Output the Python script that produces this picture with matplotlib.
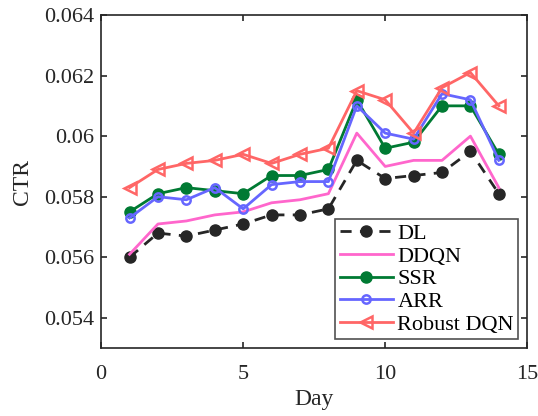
import matplotlib
matplotlib.use('Agg')
import matplotlib.pyplot as plt

plt.rcParams['font.family'] = ['Liberation Serif', 'DejaVu Serif']
plt.rcParams['mathtext.fontset'] = 'stix'

days = list(range(1, 15))
dl = [0.0560, 0.0568, 0.0567, 0.0569, 0.0571, 0.0574, 0.0574, 0.0576,
      0.0592, 0.0586, 0.0587, 0.0588, 0.0595, 0.0581]
ddqn = [0.0561, 0.0571, 0.0572, 0.0574, 0.0575, 0.0578, 0.0579, 0.0581,
        0.0601, 0.0590, 0.0592, 0.0592, 0.0600, 0.0583]
ssr = [0.0575, 0.0581, 0.0583, 0.0582, 0.0581, 0.0587, 0.0587, 0.0589,
       0.0612, 0.0596, 0.0598, 0.0610, 0.0610, 0.0594]
arr = [0.0573, 0.0580, 0.0579, 0.0583, 0.0576, 0.0584, 0.0585, 0.0585,
       0.0610, 0.0601, 0.0599, 0.0614, 0.0612, 0.0592]
robust = [0.0583, 0.0589, 0.0591, 0.0592, 0.0594, 0.0591, 0.0594, 0.0596,
          0.0615, 0.0612, 0.0601, 0.0616, 0.0621, 0.0610]

fig = plt.figure(figsize=(5.38, 4.16), dpi=100)
ax = fig.add_axes([0.188, 0.163, 0.792, 0.801])

ax.plot(days, dl, color='#262626', ls=(0, (4, 3)), lw=2, marker='o', ms=8, label='DL')
ax.plot(days, ddqn, color='#ff66cc', lw=2, label='DDQN')
ax.plot(days, ssr, color='#007a33', lw=2, marker='o', ms=8, label='SSR')
ax.plot(days, arr, color='#6666ff', lw=2, marker='o', ms=6, mfc='none', mew=1.8, label='ARR')
ax.plot(days, robust, color='#ff6666', lw=2, marker='<', ms=8, mfc='none', mew=1.8, label='Robust DQN')

ax.set_xlim(0, 15)
ax.set_ylim(0.053, 0.064)
ax.set_xticks([0, 5, 10, 15])
ax.set_yticks([0.054, 0.056, 0.058, 0.06, 0.062, 0.064])
ax.set_yticklabels(['0.054', '0.056', '0.058', '0.06', '0.062', '0.064'])
ax.tick_params(direction='in', top=True, right=True, labelsize=16, width=1.2, length=4,
               pad=5, colors='#262626')
ax.tick_params(axis='x', pad=12)
for s in ax.spines.values():
    s.set_linewidth(1.2)
    s.set_color('#262626')

ax.set_xlabel('Day', fontsize=17, color='#262626', labelpad=4)
ax.set_ylabel('CTR', fontsize=17, color='#262626', labelpad=8)

leg = ax.legend(loc='lower right', fontsize=16, frameon=True, fancybox=False,
                edgecolor='#262626', handlelength=2.4, handletextpad=0.2,
                labelspacing=0.1, borderpad=0.2, borderaxespad=0.4)
leg.get_frame().set_linewidth(1.2)

fig.savefig('out.png', dpi=100)
